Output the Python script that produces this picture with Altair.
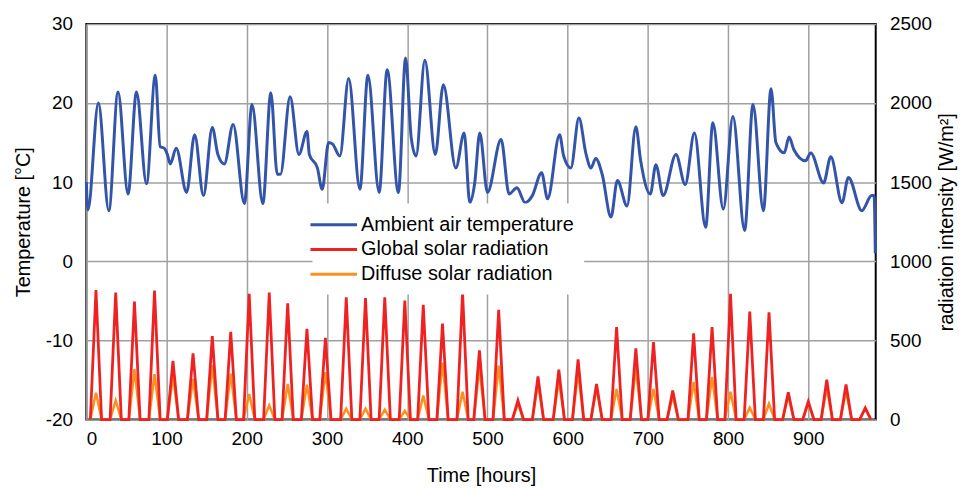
import altair as alt
import pandas as pd

# ---- data ----
series_names = ["Ambient air temperature", "Global solar radiation", "Diffuse solar radiation"]
series_colors = ["#3354a8", "#ee2222", "#f7921e"]

# Ambient air temperature: turning points (hour, degC)
temp_hours = [0, 2, 15, 28, 39.5, 52, 62.5, 75, 86, 92, 97, 101, 104.6, 112, 125, 135, 146, 157,
              164, 172, 183, 197, 206.5, 220, 230, 238, 242, 254, 265, 275, 278, 288, 294, 302,
              307, 316, 327, 341, 351, 365, 375, 389, 398, 405, 411, 422, 435, 445, 460.6, 471,
              478, 484, 490.5, 500, 517, 527, 536.7, 547, 556, 567.5, 575, 590, 595, 604, 614,
              623, 629, 635, 643, 654, 662, 674, 685, 691, 703, 710, 719, 735, 746.5, 758, 772,
              781, 794, 806, 820.6, 831, 844, 853.5, 859.6, 870, 876, 882, 896.6, 903, 919, 928,
              942, 950, 966.7, 979, 982, 983.5]
temp_values = [10.0, 6.5, 20.0, 6.4, 21.4, 8.5, 21.4, 9.8, 23.5, 14.5, 14.3, 13.5, 12.3, 14.3, 8.7,
               16.0, 8.3, 16.9, 13.5, 12.3, 17.3, 7.3, 19.8, 7.3, 21.3, 11.0, 11.0, 20.8, 13.5,
               16.4, 13.5, 11.8, 9.1, 15.0, 14.8, 13.3, 23.1, 9.1, 23.5, 8.7, 24.2, 8.7, 25.7,
               15.6, 13.3, 25.4, 13.5, 22.3, 11.8, 16.2, 7.4, 9.8, 16.2, 8.7, 15.4, 8.5, 9.3, 7.4,
               8.3, 11.2, 7.9, 16.0, 13.3, 11.8, 18.1, 13.5, 11.8, 13.0, 11.0, 5.6, 10.2, 7.0,
               17.0, 12.7, 8.5, 12.2, 8.3, 13.5, 9.7, 16.2, 4.3, 17.5, 6.6, 18.3, 3.9, 19.8, 6.4,
               21.8, 15.0, 13.7, 15.7, 14.1, 12.7, 13.7, 9.9, 13.2, 7.4, 10.6, 6.4, 8.3, 8.3, 1.0]

# Solar radiation: daily noon peaks (hour, W/m2)
peak_hours = [12, 36.6, 60, 85, 108, 133, 157, 180, 203, 228, 251, 275, 298, 324, 348, 372, 397,
              420, 444, 469, 490, 514, 538, 563, 589, 613, 636, 661, 685, 707, 731, 757, 780, 803,
              827, 851, 875, 900, 923, 947, 971]
global_peaks = [819, 802, 746, 815, 371, 419, 527, 554, 794, 802, 735, 573, 517, 773, 767, 773,
                752, 725, 606, 802, 437, 694, 121, 273, 315, 381, 225, 585, 450, 490, 183, 544,
                585, 794, 683, 677, 173, 115, 252, 221, 73]
diffuse_peaks = [170, 121, 319, 287, 280, 256, 344, 290, 162, 90, 225, 220, 300, 69, 69, 62, 55,
                 152, 360, 175, 330, 340, 100, 230, 250, 300, 200, 194, 330, 194, 150, 237, 269,
                 175, 75, 100, 150, 100, 200, 180, 70]
daylight_half = 7  # hours from sunrise to noon

rows = []
for h, v in zip(temp_hours, temp_values):
    rows.append({"hour": h, "value": v, "series": series_names[0]})
for h, g, d in zip(peak_hours, global_peaks, diffuse_peaks):
    for hh, gv, dv in [(h - daylight_half, 0, 0), (h, g, d), (h + daylight_half, 0, 0)]:
        rows.append({"hour": hh, "value": gv, "series": series_names[1]})
        rows.append({"hour": hh, "value": dv, "series": series_names[2]})
df = pd.DataFrame(rows)

FONT = "Liberation Sans"

color = alt.Color(
    "series:N",
    scale=alt.Scale(domain=series_names, range=series_colors),
    legend=alt.Legend(
        title=None, orient="none", legendX=228, legendY=181,
        symbolType="M-2.35,0H2.35", symbolSize=400, symbolStrokeWidth=3,
        labelFontSize=20, labelFont=FONT, labelColor="black", labelLimit=400,
        labelOffset=16, rowPadding=3, padding=10, fillColor="white",
    ),
)

x = alt.X(
    "hour:Q",
    scale=alt.Scale(domain=[0, 984], nice=False, zero=False),
    axis=alt.Axis(title="Time [hours]", values=list(range(0, 1000, 100)), grid=True,
                  labelPadding=10, titlePadding=17),
)

temp = alt.Chart(df).transform_filter(alt.datum.series == series_names[0]).mark_line(
    strokeWidth=3, interpolate="monotone"
).encode(
    x=x,
    y=alt.Y("value:Q", scale=alt.Scale(domain=[-20, 30], nice=False),
            axis=alt.Axis(title="Temperature [°C]", orient="left", values=[-20, -10, 0, 10, 20, 30],
                          labelExpr="datum.value + ''",
                          grid=True, labelPadding=14, titlePadding=12)),
    color=color,
)

diff = alt.Chart(df).transform_filter(alt.datum.series == series_names[2]).mark_line(
    strokeWidth=2.5
).encode(
    x=x,
    y=alt.Y("value:Q", scale=alt.Scale(domain=[0, 2500], nice=False),
            axis=alt.Axis(title="radiation intensity [W/m²]", orient="right",
                          values=[0, 500, 1000, 1500, 2000, 2500], format="d", grid=False,
                          labelPadding=14, titlePadding=5, titleAngle=270,
                          titleBaseline="top")),
    color=color,
)

glob = alt.Chart(df).transform_filter(alt.datum.series == series_names[1]).mark_line(
    strokeWidth=2.8
).encode(
    x=x,
    y=alt.Y("value:Q", scale=alt.Scale(domain=[0, 2500], nice=False), axis=None),
    color=color,
)

chart = alt.layer(temp, diff, glob).resolve_scale(y="independent").properties(
    width=796, height=399,
    autosize=alt.AutoSizeParams(type="none"),
    padding={"left": 79, "top": 14, "right": 85, "bottom": 68},
    background="white",
).configure_view(
    stroke="black", strokeWidth=2
).configure_axis(
    labelFont=FONT, titleFont=FONT, labelFontSize=19, titleFontSize=20,
    labelColor="black", titleColor="black", titleFontWeight="normal",
    domain=False, ticks=False, tickSize=0,
    gridColor="#a0a0a0", gridWidth=1.5,
)

chart.save("out.html", embed_options={"renderer": "svg", "actions": False})
